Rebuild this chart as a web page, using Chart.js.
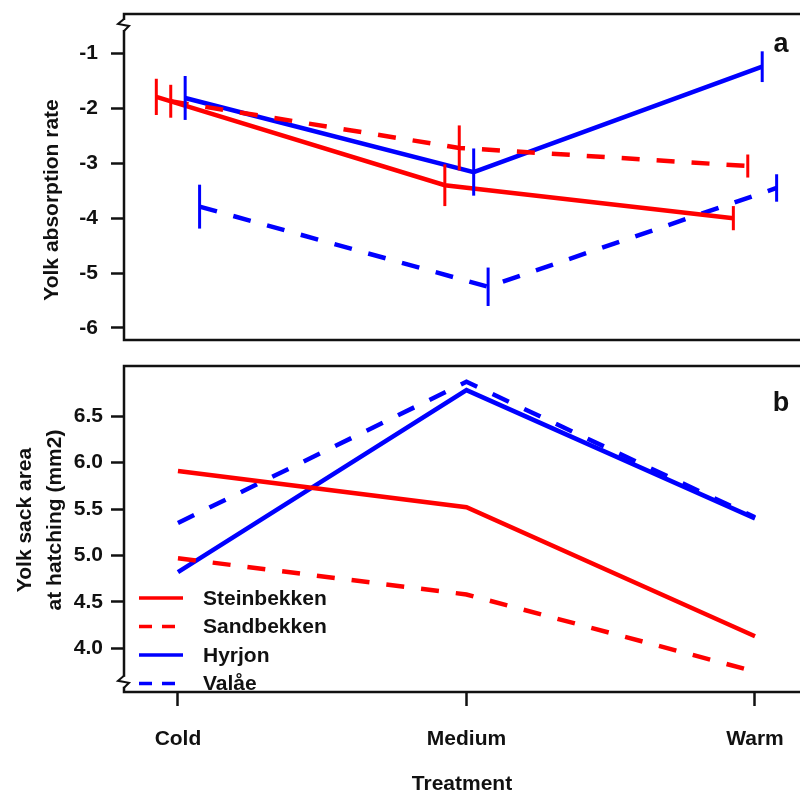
<!DOCTYPE html>
<html>
<head>
<meta charset="utf-8">
<script src="https://cdn.jsdelivr.net/npm/chart.js@4"></script>
<style>
  body { margin: 0; background: #fff; }
  #wrap { position: relative; width: 800px; height: 795px; }
  #chartA { position: absolute; left: 0; top: 0; }
  #chartB { position: absolute; left: 0; top: 350px; }
</style>
</head>
<body>
<div id="wrap">
  <canvas id="chartA" width="800" height="350"></canvas>
  <canvas id="chartB" width="800" height="445"></canvas>
</div>
<script>
// datos
const treatments = ['Cold', 'Medium', 'Warm'];
const populations = ['Steinbekken', 'Sandbekken', 'Hyrjon', 'Valåe'];

// panel a: Yolk absorption rate (media y error)
const absorbSteinbekken = [-1.79, -3.40, -4.00];
const absorbSandbekken = [-1.87, -2.72, -3.05];
const absorbHyrjon = [-1.81, -3.16, -1.24];
const absorbValae = [-3.79, -5.25, -3.45];
const errSteinbekken = [0.33, 0.38, 0.22];
const errSandbekken = [0.30, 0.41, 0.21];
const errHyrjon = [0.40, 0.43, 0.28];
const errValae = [0.40, 0.35, 0.25];
const ticksA = [-6, -5, -4, -3, -2, -1];

// panel b: Yolk sack area at hatching (mm2)
const areaSteinbekken = [5.91, 5.52, 4.13];
const areaSandbekken = [4.97, 4.58, 3.75];
const areaHyrjon = [4.82, 6.78, 5.40];
const areaValae = [5.35, 6.87, 5.41];
const ticksB = [4.0, 4.5, 5.0, 5.5, 6.0, 6.5];

// estilos de cada poblacion
const colors = ['#ff0000', '#ff0000', '#0000ff', '#0000ff'];
const dashes = [[], [18, 17], [], [18, 17]];
const dodge = [-0.075, -0.025, 0.025, 0.075];

const FONT = 'Liberation Sans, Arial, sans-serif';

function makeSet(i, values, shift) {
  return {
    label: populations[i],
    data: values.map((v, k) => ({ x: k + shift, y: v })),
    borderColor: colors[i],
    borderDash: dashes[i],
    borderWidth: 4.5,
    borderCapStyle: 'butt',
    pointRadius: 0,
    tension: 0,
    fill: false
  };
}

// ancho fijo del eje y sin relleno extra para las etiquetas
function fixY(s) {
  s.width = 124;
  s.paddingTop = 0;
  s.paddingBottom = 0;
}

// caja, marca de corte del eje, letra del panel, titulos
function panelPlugin(opts) {
  return {
    id: 'panel_' + opts.letter,
    afterDatasetsDraw(chart) {
      const { ctx, chartArea } = chart;
      const y = chart.scales.y;
      ctx.save();

      // barras de error
      if (opts.errors) {
        chart.data.datasets.forEach((ds, i) => {
          ctx.strokeStyle = ds.borderColor;
          ctx.lineWidth = 3;
          ctx.setLineDash([]);
          ds.data.forEach((p, k) => {
            const px = chart.scales.x.getPixelForValue(p.x);
            ctx.beginPath();
            ctx.moveTo(px, y.getPixelForValue(p.y - opts.errors[i][k]));
            ctx.lineTo(px, y.getPixelForValue(p.y + opts.errors[i][k]));
            ctx.stroke();
          });
        });
      }

      // leyenda dentro del panel b
      if (opts.legend) {
        chart.data.datasets.forEach((ds, i) => {
          const ly = chartArea.top + 232 + i * 28.5;
          ctx.strokeStyle = ds.borderColor;
          ctx.lineWidth = 3.5;
          ctx.setLineDash(ds.borderDash.length ? [13, 10] : []);
          ctx.beginPath();
          ctx.moveTo(chartArea.left + 15, ly);
          ctx.lineTo(chartArea.left + 59, ly);
          ctx.stroke();
          ctx.setLineDash([]);
          ctx.fillStyle = '#111';
          ctx.font = 'bold 21px ' + FONT;
          ctx.textAlign = 'left';
          ctx.textBaseline = 'middle';
          ctx.fillText(ds.label, chartArea.left + 79, ly + 1);
        });
      }

      // caja
      ctx.setLineDash([]);
      ctx.strokeStyle = '#111';
      ctx.lineWidth = 2.5;
      ctx.strokeRect(chartArea.left, chartArea.top, chartArea.right - chartArea.left + 20, chartArea.bottom - chartArea.top);

      // corte del eje
      const by = y.getPixelForValue(opts.breakAt);
      const bx = chartArea.left;
      ctx.fillStyle = '#fff';
      ctx.fillRect(bx - 3, by - 5, 6, 10);
      ctx.lineWidth = 2;
      ctx.beginPath();
      ctx.moveTo(bx, by - 6);
      ctx.lineTo(bx - 6, by - 1);
      ctx.lineTo(bx + 5, by + 1);
      ctx.lineTo(bx, by + 6);
      ctx.stroke();

      // letra del panel
      ctx.fillStyle = '#111';
      ctx.font = 'bold 27px ' + FONT;
      ctx.textAlign = 'center';
      ctx.textBaseline = 'middle';
      ctx.fillText(opts.letter, chartArea.right - 19, chartArea.top + opts.letterY);

      // titulo del eje y
      ctx.font = 'bold 21px ' + FONT;
      ctx.translate(opts.titleX, opts.titleY);
      ctx.rotate(-Math.PI / 2);
      opts.title.forEach((t, n) => ctx.fillText(t, 0, n * 30));
      ctx.restore();
    }
  };
}

const tickFont = { family: FONT, size: 21, weight: 'bold' };

// PANEL A
const chartA = new Chart(document.getElementById('chartA'), {
  type: 'line',
  data: {
    datasets: [
      makeSet(0, absorbSteinbekken, dodge[0]),
      makeSet(1, absorbSandbekken, dodge[1]),
      makeSet(2, absorbHyrjon, dodge[2]),
      makeSet(3, absorbValae, dodge[3])
    ]
  },
  options: {
    responsive: false,
    animation: false,
    layout: { padding: { top: 14, bottom: 10, left: 0, right: 0 } },
    plugins: { legend: { display: false }, tooltip: { enabled: false } },
    scales: {
      x: { type: 'linear', min: -0.187, max: 2.156, display: false },
      y: {
        min: -6.22, max: -0.28,
        afterFit: fixY,
        afterBuildTicks: s => { s.ticks = ticksA.map(v => ({ value: v })); },
        border: { display: false },
        grid: { drawOnChartArea: false, tickLength: 13, tickWidth: 2.5, tickColor: '#111' },
        ticks: { color: '#111', font: tickFont, padding: 13 }
      }
    }
  },
  plugins: [panelPlugin({
    letter: 'a', letterY: 31, breakAt: -0.48,
    errors: [errSteinbekken, errSandbekken, errHyrjon, errValae],
    title: ['Yolk absorption rate'], titleX: 52, titleY: 200
  })]
});

// PANEL B
const chartB = new Chart(document.getElementById('chartB'), {
  type: 'line',
  data: {
    datasets: [
      makeSet(0, areaSteinbekken, 0),
      makeSet(1, areaSandbekken, 0),
      makeSet(2, areaHyrjon, 0),
      makeSet(3, areaValae, 0)
    ]
  },
  options: {
    responsive: false,
    animation: false,
    layout: { padding: { top: 16, bottom: 0, left: 0, right: 0 } },
    plugins: { legend: { display: false }, tooltip: { enabled: false } },
    scales: {
      x: {
        type: 'linear', min: -0.187, max: 2.156,
        afterFit: s => { s.height = 103; s.paddingLeft = 0; s.paddingRight = 0; },
        afterBuildTicks: s => { s.ticks = treatments.map((t, i) => ({ value: i })); },
        border: { display: false },
        grid: { drawOnChartArea: false, tickLength: 14, tickWidth: 2.5, tickColor: '#111' },
        ticks: { color: '#111', font: tickFont, padding: 21, maxRotation: 0, callback: v => treatments[v] },
        title: { display: true, text: 'Treatment', color: '#111', font: { family: FONT, size: 21, weight: 'bold', lineHeight: 1 }, padding: 0 }
      },
      y: {
        min: 3.53, max: 7.04,
        afterFit: fixY,
        afterBuildTicks: s => { s.ticks = ticksB.map(v => ({ value: v })); },
        border: { display: false },
        grid: { drawOnChartArea: false, tickLength: 13, tickWidth: 2.5, tickColor: '#111' },
        ticks: { color: '#111', font: tickFont, padding: 8, callback: v => v.toFixed(1) }
      }
    }
  },
  plugins: [panelPlugin({
    letter: 'b', letterY: 38, breakAt: 3.64, legend: true,
    title: ['Yolk sack area', 'at hatching (mm2)'], titleX: 25, titleY: 170
  })]
});
</script>
</body>
</html>
